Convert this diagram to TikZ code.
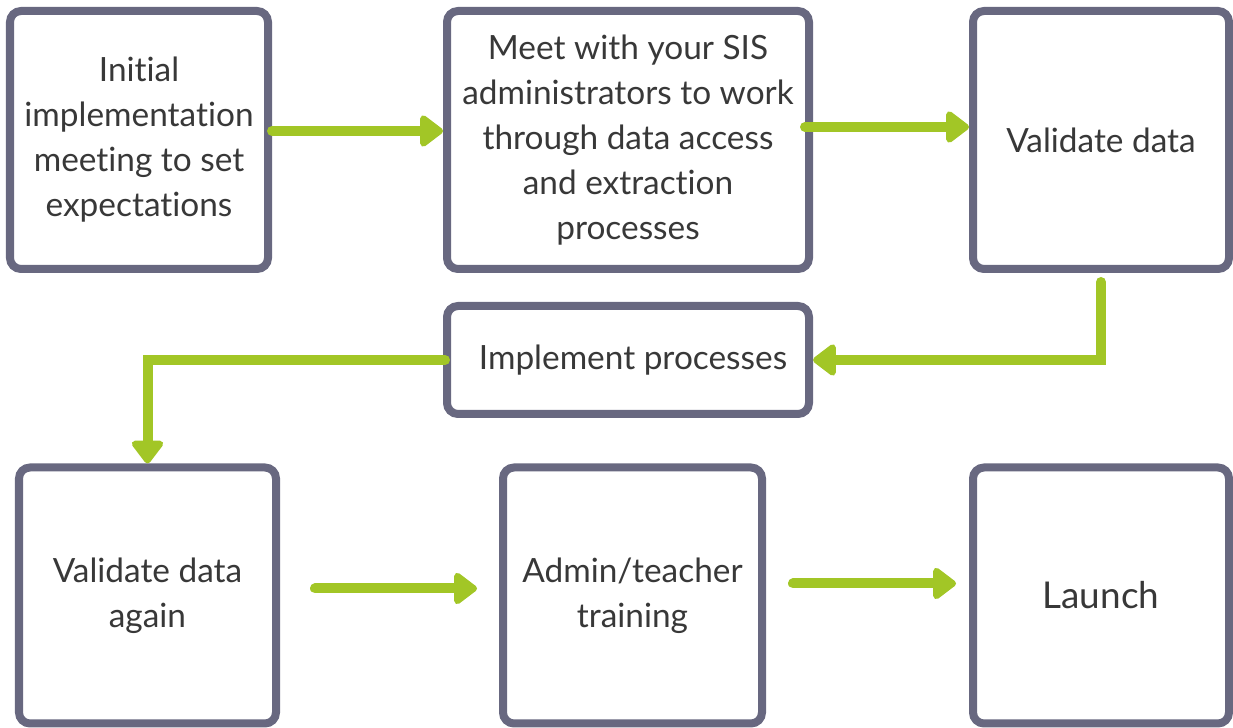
\documentclass[tikz,border=0pt]{standalone}
\usepackage{fontspec}
\setmainfont{Lato}[Ligatures=NoCommon]
\usepackage{xcolor}
\usepackage{tikz}
\usetikzlibrary{arrows.meta}

\definecolor{boxgray}{RGB}{104,104,128}
\definecolor{flowgreen}{RGB}{162,198,38}

\begin{document}
\begin{tikzpicture}[
            box/.style={draw=boxgray, line width=0.16cm, rounded corners=0.22cm, fill=white,
                        minimum width=5.16cm, minimum height=5.16cm, align=center,
                        font=\fontsize{19}{25.6}\selectfont, text=black!78},
            widebox/.style={box, minimum width=7.24cm},
            flow/.style={draw=flowgreen, line width=0.2cm, line cap=round,
                         -{Triangle[length=0.5cm, width=0.72cm, round]}}
            ]
            \useasboundingbox (0,0) rectangle (24.66,14.56);

            % Nodes with manual coordinates
            \node[box] (kickoff) at (2.78,11.76) {Initial\\implementation\\meeting to set\\expectations};
            \node[widebox] (sisadmin) at (12.56,11.76) {Meet with your SIS\\administrators to work\\through data access\\and extraction\\processes};
            \node[box, minimum width=5.12cm] (validate) at (22.02,11.76) {Validate data};
            \node[widebox, minimum height=2.16cm] (implement) at (12.56,7.36) {\hspace{0.2cm}Implement processes};
            \node[box, minimum width=5.14cm, minimum height=5.12cm] (revalidate) at (2.95,2.65) {Validate data\\again};
            \node[box, minimum width=5.18cm, minimum height=5.12cm] (training) at (12.65,2.65) {Admin/teacher\\training};
            \node[box, minimum width=5.12cm, minimum height=5.12cm, font=\fontsize{21}{26}\selectfont] (launch) at (22.02,2.65) {Launch};

            % Arrows
            \draw[flow] ([yshift=0.18cm]kickoff.east) -- ([yshift=0.18cm]sisadmin.west);
            \draw[flow] ([shift={(-0.16,0.26)}]sisadmin.east) -- ([yshift=0.26cm]validate.west);
            \draw[flow] ([yshift=-0.18cm]validate.south) |- (implement.east);
            \draw[flow] ([xshift=0.04cm]implement.west) -| (revalidate.north);
            \draw[flow] ([shift={(0.7,0.14)}]revalidate.east) -- ([shift={(-0.44,0.14)}]training.west);
            \draw[flow] ([shift={(0.54,0.24)}]training.east) -- ([shift={(-0.26,0.24)}]launch.west);
        \end{tikzpicture}
\end{document}
